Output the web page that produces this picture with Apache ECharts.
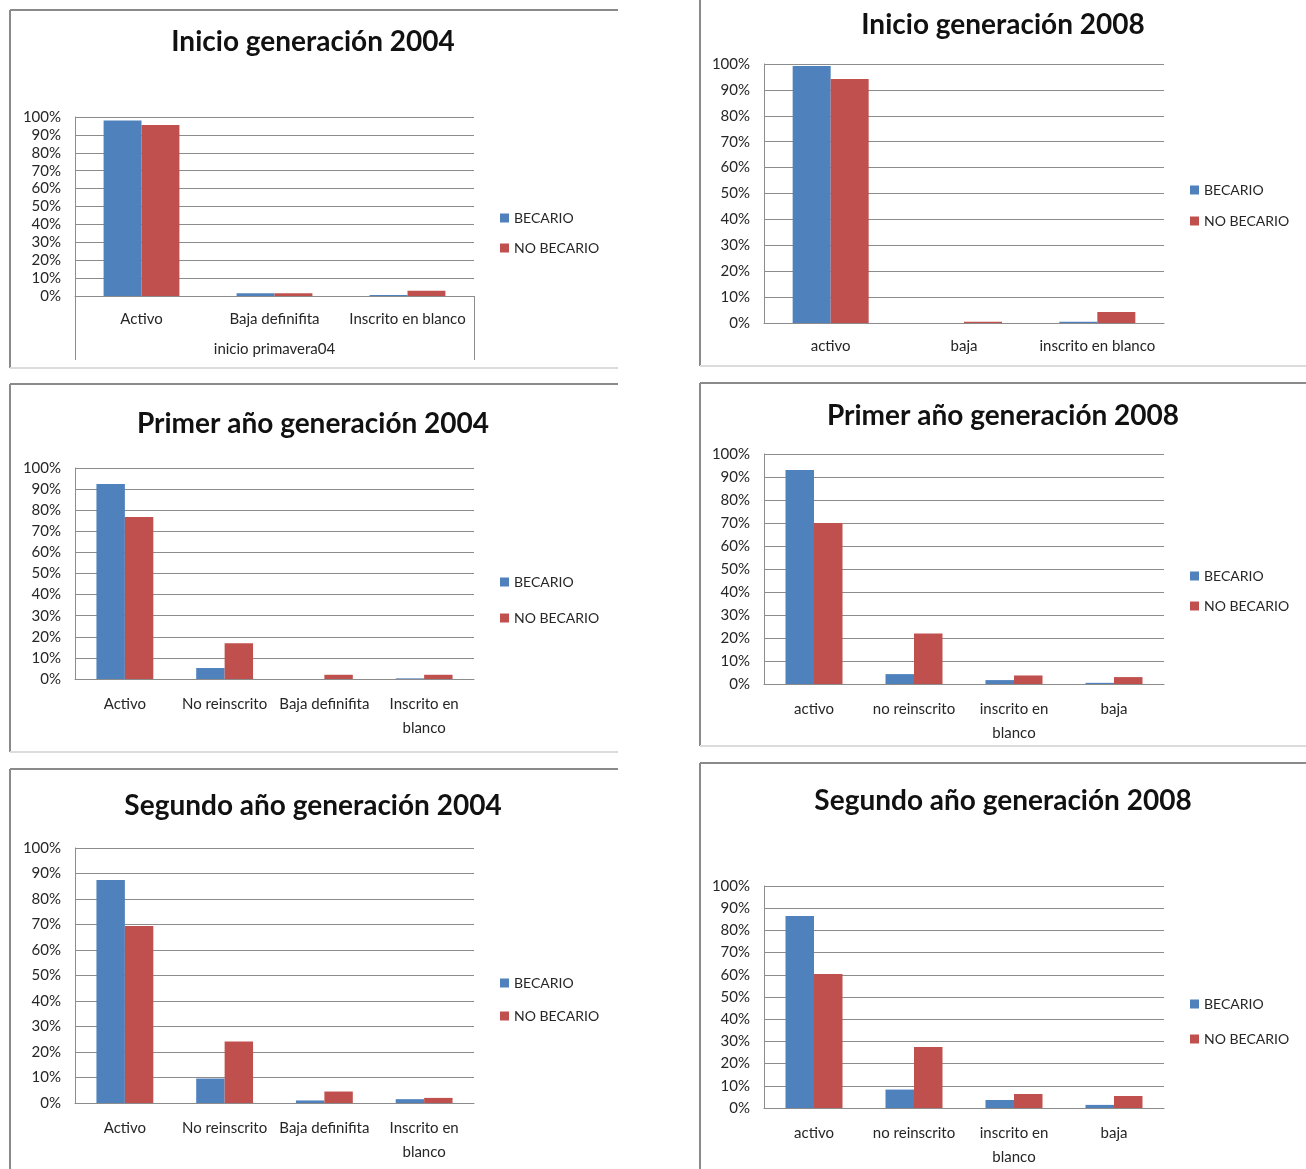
<!DOCTYPE html>
<html>
<head>
<meta charset="utf-8">
<script src="https://cdn.jsdelivr.net/npm/echarts@6/dist/echarts.min.js"></script>
<style>
html,body{margin:0;padding:0;background:#fff;}
#chart{width:1306px;height:1169px;}
</style>
</head>
<body>
<div id="chart"></div>
<script>
// ---------- DATA ----------
const seriesNames = ['BECARIO', 'NO BECARIO'];
const yTicks = [0, 0.1, 0.2, 0.3, 0.4, 0.5, 0.6, 0.7, 0.8, 0.9, 1.0];

const title1 = 'Inicio generación 2004';
const cats1 = ['Activo', 'Baja definifita', 'Inscrito en blanco'];
const becario1 = [0.98, 0.015, 0.005];
const noBecario1 = [0.955, 0.015, 0.03];
const groupLabel1 = 'inicio primavera04';

const title2 = 'Inicio generación 2008';
const cats2 = ['activo', 'baja', 'inscrito en blanco'];
const becario2 = [0.992, 0, 0.005];
const noBecario2 = [0.942, 0.005, 0.042];

const title3 = 'Primer año generación 2004';
const cats3 = ['Activo', 'No reinscrito', 'Baja definifita', 'Inscrito en blanco'];
const becario3 = [0.924, 0.052, 0, 0.003];
const noBecario3 = [0.768, 0.17, 0.02, 0.02];

const title4 = 'Primer año generación 2008';
const cats4 = ['activo', 'no reinscrito', 'inscrito en blanco', 'baja'];
const becario4 = [0.93, 0.043, 0.017, 0.005];
const noBecario4 = [0.70, 0.22, 0.037, 0.03];

const title5 = 'Segundo año generación 2004';
const cats5 = ['Activo', 'No reinscrito', 'Baja definifita', 'Inscrito en blanco'];
const becario5 = [0.875, 0.096, 0.01, 0.015];
const noBecario5 = [0.694, 0.241, 0.045, 0.02];

const title6 = 'Segundo año generación 2008';
const cats6 = ['activo', 'no reinscrito', 'inscrito en blanco', 'baja'];
const becario6 = [0.865, 0.083, 0.036, 0.014];
const noBecario6 = [0.604, 0.275, 0.063, 0.054];

// ---------- LAYOUT ----------
const FONT = 'Lato';
const TXT = '#262626';
const colors = ['#4F81BD', '#C0504D'];
const panels = [
  {title: title1, cats: cats1, b: becario1, n: noBecario1, grid: [75, 117, 474, 296], tx: 313, ty: 42, lx: 500, ly: 218, lgap: 30, wrap: false, group: groupLabel1},
  {title: title2, cats: cats2, b: becario2, n: noBecario2, grid: [764, 64, 1164, 323], tx: 1003, ty: 25, lx: 1190, ly: 190, lgap: 31, wrap: false},
  {title: title3, cats: cats3, b: becario3, n: noBecario3, grid: [75, 468, 474, 679], tx: 313, ty: 424, lx: 500, ly: 582, lgap: 36, wrap: true},
  {title: title4, cats: cats4, b: becario4, n: noBecario4, grid: [764, 454, 1164, 684], tx: 1003, ty: 416, lx: 1190, ly: 576, lgap: 30, wrap: true},
  {title: title5, cats: cats5, b: becario5, n: noBecario5, grid: [75, 848, 474, 1103], tx: 313, ty: 806, lx: 500, ly: 983, lgap: 33, wrap: true},
  {title: title6, cats: cats6, b: becario6, n: noBecario6, grid: [764, 886, 1164, 1108], tx: 1003, ty: 801, lx: 1190, ly: 1004, lgap: 35, wrap: true}
];

const W = 1306, H = 1169;
const grids = [], xAxes = [], yAxes = [], series = [], legends = [], graphics = [];

panels.forEach((p, i) => {
  const [l, t, r, b] = p.grid;
  grids.push({left: l, top: t, width: r - l, height: b - t, containLabel: false});
  xAxes.push({
    type: 'category', gridIndex: i, data: p.cats,
    axisLine: {show: true, lineStyle: {color: '#8c8c8c', width: 1}},
    axisTick: {show: false},
    axisLabel: {
      color: TXT, fontFamily: FONT, fontSize: 15, margin: 13, lineHeight: p.wrap ? 24 : 20, interval: 0,
      formatter: v => p.wrap ? v.replace(/ en blanco$/, ' en\nblanco') : v
    }
  });
  yAxes.push({
    type: 'value', gridIndex: i, min: 0, max: 1, interval: 0.1,
    axisLine: {show: true, lineStyle: {color: '#8c8c8c', width: 1}},
    axisTick: {show: false},
    splitLine: {show: true, lineStyle: {color: '#8c8c8c', width: 1}},
    axisLabel: {
      color: TXT, fontFamily: FONT, fontSize: 15, margin: 14,
      formatter: v => Math.round(v * 100) + '%'
    }
  });
  const xi = xAxes.length - 1;
  [p.b, p.n].forEach((vals, k) => {
    series.push({
      type: 'bar', name: seriesNames[k], xAxisIndex: xi, yAxisIndex: i,
      data: vals, barGap: '0%', barCategoryGap: '43%',
      itemStyle: {color: colors[k]}, emphasis: {disabled: true}, animation: false
    });
  });
  legends.push({
    orient: 'vertical', left: p.lx, top: p.ly - 8, itemWidth: 9, itemHeight: 9,
    itemGap: p.lgap - 16, icon: 'rect', selectedMode: false, data: seriesNames,
    textStyle: {color: TXT, fontFamily: FONT, fontSize: 14, lineHeight: 16}, padding: 0
  });
  graphics.push({
    type: 'text', x: p.tx, y: p.ty,
    style: {text: p.title, fill: '#111', font: 'bold 28px ' + FONT, textAlign: 'center', textVerticalAlign: 'middle'}
  });
});

// second-level category axis for first chart
xAxes.push({
  type: 'category', gridIndex: 0, position: 'bottom', data: [groupLabel1],
  axisLine: {show: false},
  axisTick: {show: true, length: 64, lineStyle: {color: '#8c8c8c', width: 1}},
  axisLabel: {color: TXT, fontFamily: FONT, fontSize: 15, margin: 46}
});
series.push({type: 'bar', xAxisIndex: xAxes.length - 1, yAxisIndex: 0, data: [], silent: true});

// panel borders
const dark = '#8a8a8a', light = '#dcdcdc';
function line(x1, y1, x2, y2, c, w) {
  graphics.push({type: 'line', shape: {x1, y1, x2, y2}, style: {stroke: c, lineWidth: w}, silent: true});
}
// panel 1
line(10, 10, 618, 10, dark, 2); line(10, 10, 10, 368, dark, 2); line(10, 368, 618, 368, light, 2);
// panel 2
line(700, 0, 700, 366, dark, 2); line(700, 366, 1306, 366, light, 2);
// panel 3
line(10, 384, 618, 384, dark, 2); line(10, 384, 10, 752, dark, 2); line(10, 752, 618, 752, light, 2);
// panel 4
line(700, 383, 1306, 383, dark, 2); line(700, 383, 700, 746, dark, 2); line(700, 746, 1306, 746, light, 2);
// panel 5
line(10, 769, 618, 769, dark, 2); line(10, 769, 10, 1169, dark, 2);
// panel 6
line(700, 763, 1306, 763, dark, 2); line(700, 763, 700, 1169, dark, 2);

const chart = echarts.init(document.getElementById('chart'), null, {renderer: 'canvas', width: W, height: H});
chart.setOption({
  animation: false,
  backgroundColor: '#fff',
  grid: grids,
  xAxis: xAxes,
  yAxis: yAxes,
  legend: legends,
  series: series,
  graphic: graphics
});
</script>
</body>
</html>
